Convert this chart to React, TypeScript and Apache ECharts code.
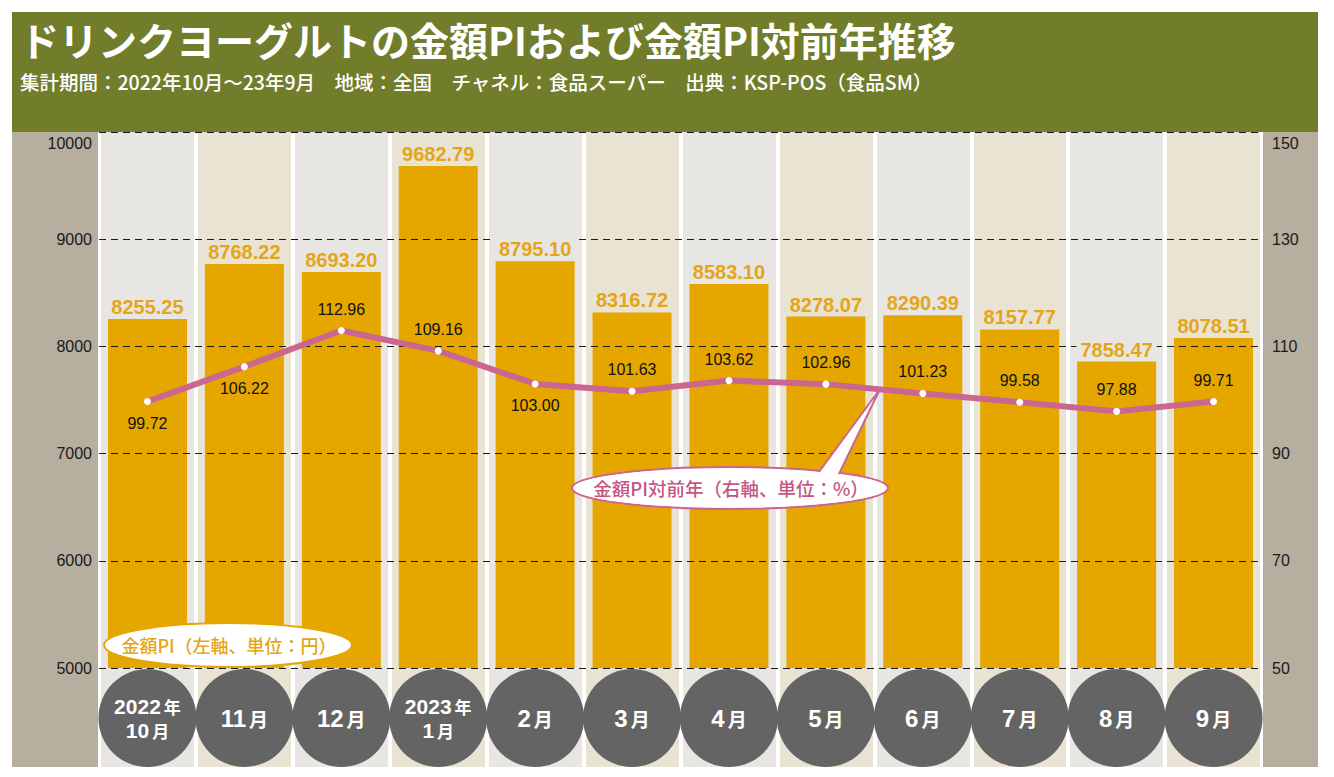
import React, { useEffect, useRef } from 'react';
import * as echarts from 'echarts';

const months = ['2022年10月', '11月', '12月', '2023年1月', '2月', '3月', '4月', '5月', '6月', '7月', '8月', '9月'];
const amountPI = [8255.25, 8768.22, 8693.2, 9682.79, 8795.1, 8316.72, 8583.1, 8278.07, 8290.39, 8157.77, 7858.47, 8078.51];
const yoyPI = [99.72, 106.22, 112.96, 109.16, 103.0, 101.63, 103.62, 102.96, 101.23, 99.58, 97.88, 99.71];
const leftTicks = [5000, 6000, 7000, 8000, 9000, 10000];
const rightTicks = [50, 70, 90, 110, 130, 150];
const labelsBelow = [0, 1, 4];

const titleText = 'ドリンクヨーグルトの金額PIおよび金額PI対前年推移';
const subtitleText = '集計期間：2022年10月～23年9月　地域：全国　チャネル：食品スーパー　出典：KSP-POS（食品SM）';
const barNote = '金額PI（左軸、単位：円）';
const lineNote = '金額PI対前年（右軸、単位：%）';

const NUM = "'Liberation Sans', Arial, 'Noto Sans', sans-serif";
const JP = "'Noto Sans CJK JP', 'Noto Sans', sans-serif";

const OLIVE = '#727d2c';
const PANEL = '#b6ae9f';
const BAR = '#e5a600';
const BAR_LABEL = '#e4a518';
const PINK = '#cb6690';
const PINK_TEXT = '#c4567f';
const CIRCLE = '#646464';
const COL_BG = ['#e8e6e3', '#e9e3d4'];

export default function App() {
  const ref = useRef<HTMLDivElement>(null);

  useEffect(() => {
    document.body.style.margin = '0';
    const chart = echarts.init(ref.current!, undefined, { renderer: 'svg' });

    const axisLabelFmt = (last: number) => (v: number) =>
      v === last ? `{top|${v}}` : `{n|${v}}`;

    const option: any = {
      animation: false,
      grid: [
        { left: 99, right: 72, top: 132, bottom: 109 },
        { left: 99, right: 72, top: 132, bottom: 10 },
      ],
      xAxis: [
        {
          type: 'category',
          gridIndex: 0,
          data: months,
          z: 3,
          axisLine: { show: false },
          axisTick: { show: false },
          splitLine: { show: false },
          axisLabel: {
            interval: 0,
            margin: 1,
            width: 98,
            backgroundColor: CIRCLE,
            borderRadius: 49,
            padding: [25, 0, 25, 0],
            align: 'center',
            formatter: (v: string) => {
              const i = v.indexOf('年');
              if (i >= 0) {
                const y = v.slice(0, i);
                const m = v.slice(i + 1).replace('月', '');
                return `{d|${y}}{k|年}\n{d|${m}}{k|月}`;
              }
              return `{D|${v.replace('月', '')}}{K|月}`;
            },
            rich: {
              d: { color: '#fff', fontFamily: NUM, fontWeight: 'bold', fontSize: 21, lineHeight: 24, align: 'center' },
              k: { color: '#fff', fontFamily: JP, fontWeight: 'bold', fontSize: 17, lineHeight: 24, padding: [0, 0, 0, 3], align: 'center' },
              D: { color: '#fff', fontFamily: NUM, fontWeight: 'bold', fontSize: 24, lineHeight: 48, align: 'center' },
              K: { color: '#fff', fontFamily: JP, fontWeight: 'bold', fontSize: 19, lineHeight: 48, padding: [0, 0, 0, 3], align: 'center' },
            },
          },
        },
        {
          type: 'category',
          gridIndex: 1,
          data: months,
          z: 0,
          axisLine: { show: false },
          axisTick: { show: false },
          axisLabel: { show: false },
          splitArea: { show: true, areaStyle: { color: COL_BG } },
          splitLine: { show: true, lineStyle: { color: '#ffffff', width: 4 } },
        },
      ],
      yAxis: [
        {
          type: 'value',
          gridIndex: 0,
          position: 'left',
          min: leftTicks[0],
          max: leftTicks[leftTicks.length - 1],
          interval: leftTicks[1] - leftTicks[0],
          z: 3,
          axisLine: { show: false },
          axisTick: { show: false },
          splitLine: { show: true, lineStyle: { color: '#1a1a1a', width: 1, type: [7, 5] } },
          axisLabel: {
            margin: 7,
            formatter: axisLabelFmt(leftTicks[leftTicks.length - 1]),
            rich: {
              n: { color: '#1a1a1a', fontFamily: NUM, fontSize: 16 },
              top: { color: '#1a1a1a', fontFamily: NUM, fontSize: 16, padding: [22, 0, 0, 0] },
            },
          },
        },
        {
          type: 'value',
          gridIndex: 0,
          position: 'right',
          min: rightTicks[0],
          max: rightTicks[rightTicks.length - 1],
          interval: rightTicks[1] - rightTicks[0],
          z: 3,
          axisLine: { show: false },
          axisTick: { show: false },
          splitLine: { show: false },
          axisLabel: {
            margin: 10,
            formatter: axisLabelFmt(rightTicks[rightTicks.length - 1]),
            rich: {
              n: { color: '#1a1a1a', fontFamily: NUM, fontSize: 16 },
              top: { color: '#1a1a1a', fontFamily: NUM, fontSize: 16, padding: [22, 0, 0, 0] },
            },
          },
        },
        { type: 'value', gridIndex: 1, min: 0, max: 1, show: false },
      ],
      series: [
        {
          name: '金額PI',
          type: 'bar',
          xAxisIndex: 0,
          yAxisIndex: 0,
          data: amountPI,
          barWidth: 79,
          z: 2,
          itemStyle: { color: BAR },
        },
        {
          name: '金額PI ラベル',
          type: 'bar',
          xAxisIndex: 0,
          yAxisIndex: 0,
          data: amountPI.map((v, i) => ({
            value: v,
            label: { backgroundColor: COL_BG[i % 2] },
          })),
          barWidth: 79,
          barGap: '-100%',
          z: 20,
          silent: true,
          itemStyle: { color: 'rgba(0,0,0,0)' },
          label: {
            show: true,
            position: 'top',
            distance: 2,
            padding: [1, 4, 0, 4],
            color: BAR_LABEL,
            fontFamily: NUM,
            fontWeight: 'bold',
            fontSize: 20,
            formatter: (p: any) => Number(p.value).toFixed(2),
          },
        },
        {
          name: '金額PI対前年',
          type: 'line',
          xAxisIndex: 0,
          yAxisIndex: 1,
          z: 5,
          data: yoyPI.map((v, i) => ({
            value: v,
            label: { position: labelsBelow.includes(i) ? 'bottom' : 'top' },
          })),
          symbol: 'circle',
          symbolSize: 7,
          itemStyle: { color: '#ffffff', borderWidth: 0 },
          lineStyle: { color: PINK, width: 6 },
          label: {
            show: true,
            distance: 10,
            color: '#111111',
            fontFamily: NUM,
            fontSize: 16,
            formatter: (p: any) => Number(p.value).toFixed(2),
          },
        },
      ],
      graphic: [
        { type: 'rect', z: 1, shape: { x: 12, y: 12, width: 1306, height: 120 }, style: { fill: OLIVE } },
        { type: 'rect', z: 1, shape: { x: 12, y: 132, width: 86, height: 635 }, style: { fill: PANEL } },
        { type: 'rect', z: 1, shape: { x: 1263, y: 132, width: 55, height: 635 }, style: { fill: PANEL } },
        {
          type: 'text', z: 2, x: 20, y: 38.5,
          style: { text: titleText, fill: '#ffffff', fontFamily: JP, fontWeight: 'bold', fontSize: 39, lineHeight: 40, verticalAlign: 'middle', align: 'left' },
        },
        {
          type: 'text', z: 2, x: 20, y: 81,
          style: { text: subtitleText, fill: '#ffffff', fontFamily: JP, fontWeight: 500, fontSize: 19.5, lineHeight: 20, verticalAlign: 'middle', align: 'left' },
        },
        // bar note bubble
        {
          type: 'ellipse', z: 30, shape: { cx: 228, cy: 645, rx: 124, ry: 22 },
          style: { fill: '#ffffff', stroke: BAR, lineWidth: 2 },
        },
        {
          type: 'text', z: 31, x: 229, y: 645,
          style: { text: barNote, fill: BAR_LABEL, fontFamily: JP, fontWeight: 500, fontSize: 18, align: 'center', verticalAlign: 'middle' },
        },
        // line note bubble
        {
          type: 'ellipse', z: 30, shape: { cx: 730, cy: 488, rx: 158, ry: 21 },
          style: { fill: '#ffffff', stroke: PINK, lineWidth: 2 },
        },
        {
          type: 'polygon', z: 31, shape: { points: [[816, 476], [880, 389], [838, 476]] },
          style: { fill: '#ffffff', stroke: PINK, lineWidth: 2 },
        },
        {
          type: 'ellipse', z: 32, shape: { cx: 730, cy: 488, rx: 156.5, ry: 19.5 },
          style: { fill: '#ffffff' },
        },
        {
          type: 'text', z: 33, x: 731, y: 488,
          style: { text: lineNote, fill: PINK_TEXT, fontFamily: JP, fontWeight: 500, fontSize: 18.5, align: 'center', verticalAlign: 'middle' },
        },
      ],
    };

    chart.setOption(option);
    return () => chart.dispose();
  }, []);

  return <div ref={ref} style={{ position: 'absolute', left: 0, top: 0, width: 1334, height: 777 }} />;
}
